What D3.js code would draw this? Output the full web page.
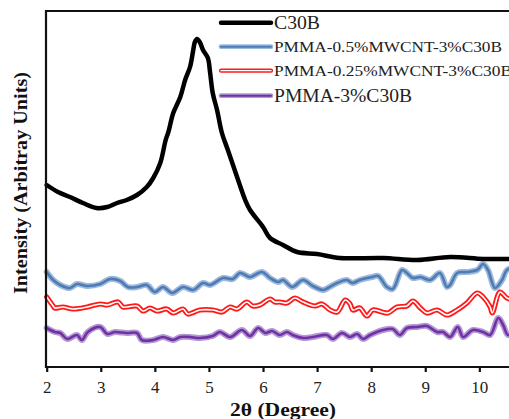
<!DOCTYPE html>
<html><head><meta charset="utf-8">
<script src="https://cdn.jsdelivr.net/npm/d3@7"></script>
<style>body{margin:0;background:#fff}svg{display:block}</style>
</head><body>
<svg id="c" width="509" height="419"></svg>
<script>
const seriesNames = ["C30B","PMMA-0.5%MWCNT-3%C30B","PMMA-0.25%MWCNT-3%C30B","PMMA-3%C30B"];
const xTicks = [2,3,4,5,6,7,8,9,10];

const c30b = [[2.00,182],[2.21,175],[2.43,170],[2.67,164],[2.92,159],[3.12,160],[3.30,164],[3.48,167],[3.67,172],[3.85,180],[3.97,189],[4.10,204],[4.20,227],[4.25,235],[4.34,254],[4.47,270],[4.56,287],[4.65,300],[4.71,317],[4.74,325],[4.78,328],[4.83,325],[4.89,317],[4.98,309],[5.02,295],[5.07,274],[5.15,257],[5.24,234],[5.35,217],[5.52,190],[5.67,167],[5.76,157],[6.00,140],[6.13,129],[6.37,122],[6.63,115],[7.00,113],[7.42,109],[8.22,109],[8.85,107],[9.46,110],[10.07,108],[10.51,108],[10.8,108]];

const blue = [[2.00,95],[2.12,87],[2.25,82],[2.43,79],[2.56,83],[2.75,81],[2.99,83],[3.17,88],[3.36,86],[3.50,80],[3.67,80],[3.85,82],[4.00,75],[4.15,80],[4.32,74],[4.52,80],[4.71,77],[4.89,84],[5.02,82],[5.26,89],[5.44,88],[5.57,94],[5.67,92],[5.76,90],[5.98,95],[6.13,89],[6.28,85],[6.37,87],[6.54,80],[6.74,87],[6.92,81],[7.11,77],[7.20,79],[7.37,84],[7.55,87],[7.65,84],[7.79,87],[8.02,90],[8.13,91],[8.29,80],[8.40,78],[8.57,97],[8.66,94],[8.77,89],[8.91,90],[9.09,87],[9.27,94],[9.40,80],[9.46,82],[9.59,94],[9.77,95],[9.96,97],[10.07,103],[10.16,97],[10.29,79],[10.42,87],[10.51,97],[10.66,99]];

const red = [[2.00,70],[2.12,61],[2.15,59],[2.30,60],[2.49,58],[2.75,60],[2.99,63],[3.12,62],[3.32,65],[3.41,60],[3.67,61],[3.78,56],[3.91,59],[4.04,56],[4.22,58],[4.34,54],[4.52,58],[4.61,53],[4.83,57],[5.07,57],[5.24,55],[5.39,60],[5.52,58],[5.70,65],[5.81,61],[5.94,62],[6.13,68],[6.22,65],[6.31,65],[6.44,64],[6.59,69],[6.74,65],[6.96,61],[7.09,63],[7.24,57],[7.37,55],[7.52,67],[7.61,63],[7.66,57],[7.79,59],[7.92,51],[8.03,57],[8.20,55],[8.31,54],[8.48,60],[8.66,61],[8.77,66],[8.91,59],[9.03,54],[9.22,57],[9.40,52],[9.59,57],[9.77,64],[9.96,74],[10.07,70],[10.20,60],[10.24,54],[10.38,75],[10.51,69],[10.66,67]];

const purple = [[2.00,39],[2.15,35],[2.25,34],[2.38,28],[2.56,32],[2.65,27],[2.76,35],[2.99,40],[3.12,33],[3.26,35],[3.48,34],[3.67,34],[3.76,27],[3.97,27],[4.15,30],[4.34,27],[4.47,30],[4.65,30],[4.83,29],[5.07,31],[5.20,35],[5.39,30],[5.61,37],[5.76,31],[5.91,39],[6.04,34],[6.17,36],[6.31,32],[6.44,35],[6.55,32],[6.74,29],[6.92,30],[7.18,32],[7.29,28],[7.46,34],[7.61,30],[7.74,33],[7.85,28],[7.98,32],[8.22,37],[8.40,38],[8.53,32],[8.66,39],[8.85,40],[9.03,41],[9.22,35],[9.33,35],[9.46,30],[9.60,40],[9.70,30],[9.88,37],[10.07,35],[10.20,32],[10.35,49],[10.44,42],[10.53,32],[10.66,37]];

const svg = d3.select("#c");
const L = 46.7, T = 11, B = 367;
const x = d3.scaleLinear().domain([2, 10.8]).range([L, L + 8.8 * 54.08]);
const y = d3.scaleLinear().domain([0, 356]).range([B, T]);
const line = d3.line().x(d => x(d[0])).y(d => y(d[1])).curve(d3.curveCatmullRom.alpha(0.5));

const styles = [
  [{c:"#000", w:4.5}],
  [{c:"#9db9dc", w:6}, {c:"#4e7bb4", w:2.6}],
  [{c:"#ff1a1a", w:5.2}, {c:"#fff", w:1.6}],
  [{c:"#b39ad6", w:6}, {c:"#7131a3", w:2.6}]
];
const data = [c30b, blue, red, purple];

// series
[1,2,3,0].forEach(i => {
  styles[i].forEach(s => {
    svg.append("path").datum(data[i]).attr("d", line)
      .attr("fill","none").attr("stroke", s.c).attr("stroke-width", s.w)
      .attr("stroke-linejoin","round").attr("stroke-linecap","round");
  });
});

// frame
svg.append("line").attr("x1",L-1).attr("x2",509).attr("y1",T).attr("y2",T).attr("stroke","#111").attr("stroke-width",2);
svg.append("line").attr("x1",L-0.7).attr("x2",L-0.7).attr("y1",T-1).attr("y2",B).attr("stroke","#111").attr("stroke-width",2.2);

const ax = svg.append("g").attr("transform",`translate(0,${B})`)
  .call(d3.axisBottom(x).tickValues(xTicks).tickFormat(d3.format("d")).tickSize(5).tickSizeOuter(0));
ax.select(".domain").attr("stroke","#111").attr("stroke-width",2.2).attr("d", `M${L-1.8},0H509`);
ax.selectAll(".tick line").attr("stroke","#111").attr("stroke-width",2.2);
ax.selectAll(".tick text").attr("y",13.5).attr("dy","0.71em")
  .attr("font-family","Liberation Serif, Times New Roman, serif").attr("font-size",17).attr("fill","#222");

// axis titles
svg.append("text").attr("x",230).attr("y",416)
  .attr("font-family","Liberation Serif, Times New Roman, serif").attr("font-weight","bold").attr("font-size",19)
  .attr("textLength",106).attr("lengthAdjust","spacingAndGlyphs").attr("fill","#111").text("2θ (Degree)");
svg.append("text").attr("transform","translate(27,294) rotate(-90)")
  .attr("font-family","Liberation Serif, Times New Roman, serif").attr("font-weight","bold").attr("font-size",18)
  .attr("textLength",222).attr("lengthAdjust","spacingAndGlyphs").attr("fill","#111").text("Intensity (Arbitray Units)");

// legend
const legY = [22.7, 46.7, 70.7, 95.7];
const legFont = [18, 14.5, 14.5, 18];
const legLen = [46, 228, 238, 138];
seriesNames.forEach((n, i) => {
  styles[i].forEach(s => {
    svg.append("line").attr("x1",221).attr("x2",271).attr("y1",legY[i]).attr("y2",legY[i])
      .attr("stroke",s.c).attr("stroke-width", i===0 ? 4.5 : s.w*0.8).attr("stroke-linecap","round");
  });
  svg.append("text").attr("x",274).attr("y",legY[i]).attr("dy","0.35em")
    .attr("font-family","Liberation Serif, Times New Roman, serif").attr("font-size",legFont[i])
    .attr("textLength",legLen[i]).attr("lengthAdjust","spacingAndGlyphs").attr("fill","#222").text(n);
});
</script>
</body></html>
